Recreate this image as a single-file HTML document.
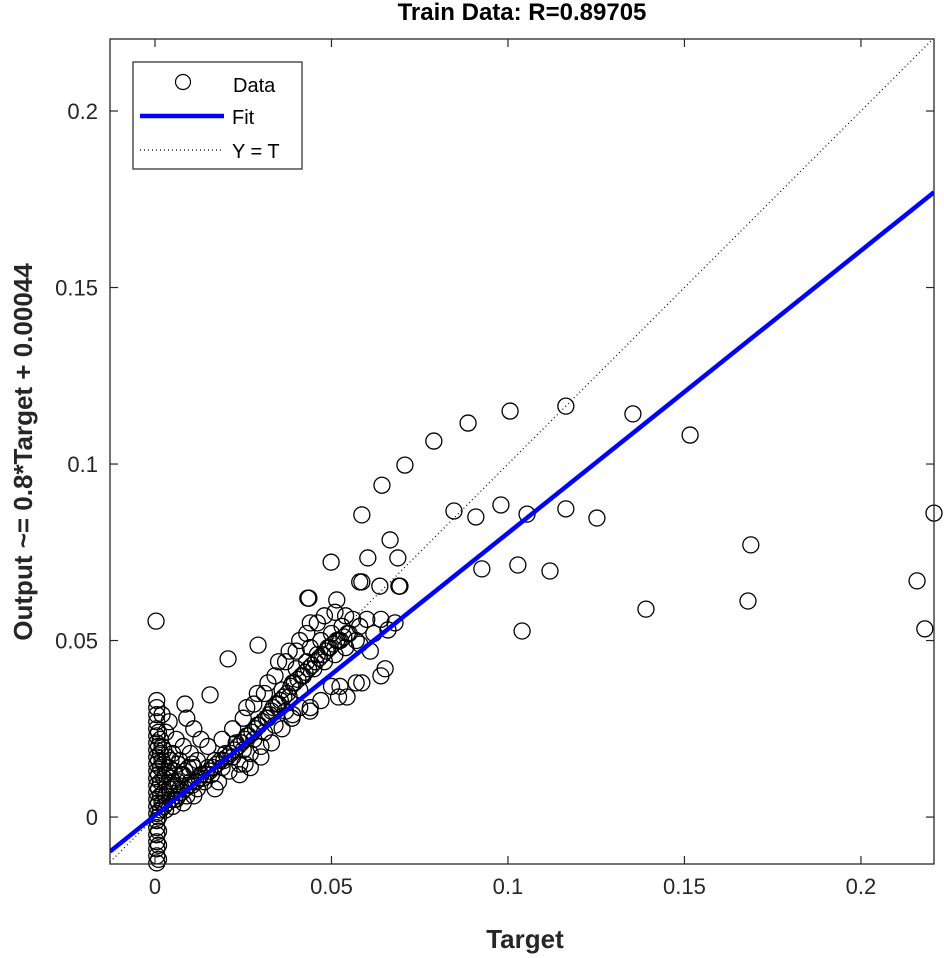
<!DOCTYPE html>
<html><head><meta charset="utf-8"><style>
body{margin:0;background:#fff}
svg{display:block;font-family:"Liberation Sans",Arial,sans-serif}
</style></head><body>
<svg id="c" width="944" height="958" viewBox="0 0 944 958"></svg>
<script>
const xTicks=[0,0.05,0.1,0.15,0.2];
const yTicks=[0,0.05,0.1,0.15,0.2];
const tickLabels=["0","0.05","0.1","0.15","0.2"];
const fitSlope=0.8;
const fitIntercept=0.00044;
const dataX=[0.0005,0.0005,0.0005,0.0005,0.0005,0.0005,0.0005,0.0005,0.0005,0.0005,0.0005,0.0005,0.0005,0.0005,0.0005,0.0005,0.0005,0.0005,0.0005,0.0005,0.0005,0.0005,0.0005,0.0005,
0.002,0.003,0.004,0.005,0.003,0.002,0.002,0.003,0.004,0.005,0.006,0.006,0.007,0.008,0.007,0.008,0.009,0.01,0.011,0.01,0.012,0.013,0.012,0.014,0.015,0.004,0.002,0.005,0.008,0.011,0.003,
0.016,0.017,0.018,0.019,0.02,0.021,0.022,0.023,0.024,0.025,0.026,0.027,0.028,0.029,0.03,0.031,0.032,0.033,0.034,0.035,0.036,0.037,0.038,0.039,0.04,0.041,0.042,0.043,0.044,0.045,0.046,0.047,0.048,0.049,0.05,0.051,0.052,0.053,0.054,0.055,0.056,0.057,0.058,0.06,0.062,0.064,0.066,0.068,
0.022,0.025,0.028,0.031,0.034,0.037,0.04,0.043,0.046,0.024,0.027,0.03,0.033,0.036,0.039,0.041,0.026,0.029,0.032,0.035,0.038,0.041,0.044,0.048,0.051,0.054,0.058,0.061,0.064,0.05,0.052,0.057,0.044,0.047,0.019,0.015,0.013,0.011,0.009,
0.0003,0.1006,0.1164,0.1354,0.0887,0.079,0.0708,0.1516,0.0847,0.098,0.0909,0.1054,0.1164,0.1252,0.0926,0.1028,0.1119,0.104,0.1391,0.1688,0.168,0.2159,0.2207,0.2181,0.0586,0.0643,0.0666,0.0688,0.058,0.0637,0.0603,0.0499,0.0694,0.0436,0.0207,0.0085,0.0156,0.0292,0.0433,0.0515,0.0586,0.0691,0.0652,0.0586,0.0544,0.0524,0.0439,0.0388,0.0255,0.017,
0.001,0.001,0.001,0.001,0.001,0.001,0.001,0.001,0.001,0.001,0.0015,0.0015,0.0015,0.0015,0.0015,0.0015,0.0025,0.0025,0.0025,0.0025,0.0025,0.0035,0.0035,0.0035,0.0035,0.0045,0.0045,0.0045,0.0055,0.0055,0.0055,0.0065,0.0065,0.0065,0.0075,0.0075,0.0085,0.0085,0.0095,0.0095,0.0105,0.0105,0.0115,0.0125,0.0135,0.0145,0.0155,0.0165,0.0175,0.0185,0.0195,0.0205,0.0215,0.0225,0.0235,0.0245,0.0255,0.0265,0.0275,0.0285,0.0295,0.0305,0.0315,0.0325,0.0335,0.0345,0.0355,0.0365,0.0375,0.0385,0.0395,0.0405,0.0415,0.0425,0.0435,0.0445,0.0455,0.0465,0.0475,0.0485,0.0495,0.0505,0.0515,0.0525,0.0535,0.0545];
const dataY=[-0.013,-0.011,-0.009,-0.007,-0.005,-0.003,-0.001,0.001,0.003,0.005,0.007,0.009,0.011,0.013,0.015,0.017,0.019,0.021,0.023,0.025,0.027,0.029,0.031,0.033,
0.004,0.006,0.008,0.01,0.012,0.016,0.02,0.024,0.014,0.018,0.022,0.005,0.008,0.012,0.016,0.02,0.006,0.01,0.014,0.018,0.008,0.012,0.016,0.01,0.014,0.027,0.029,0.003,0.004,0.006,0.002,
0.012,0.016,0.01,0.014,0.018,0.013,0.017,0.021,0.015,0.019,0.023,0.018,0.022,0.026,0.02,0.024,0.028,0.03,0.026,0.032,0.036,0.03,0.034,0.038,0.042,0.036,0.04,0.044,0.048,0.042,0.046,0.05,0.044,0.048,0.052,0.046,0.05,0.054,0.048,0.052,0.056,0.05,0.054,0.056,0.052,0.056,0.053,0.055,
0.025,0.028,0.032,0.035,0.04,0.044,0.047,0.052,0.055,0.012,0.014,0.017,0.021,0.025,0.029,0.031,0.031,0.035,0.038,0.044,0.047,0.05,0.055,0.057,0.058,0.057,0.049,0.047,0.04,0.037,0.034,0.038,0.031,0.033,0.022,0.02,0.022,0.025,0.028,
0.0555,0.115,0.1164,0.1142,0.1116,0.1065,0.0997,0.1082,0.0867,0.0884,0.085,0.0858,0.0873,0.0847,0.0703,0.0714,0.0697,0.0527,0.0589,0.0771,0.0612,0.0669,0.0861,0.0533,0.0856,0.094,0.0785,0.0734,0.0666,0.0654,0.0734,0.0722,0.0654,0.062,0.0448,0.032,0.0346,0.0487,0.062,0.0615,0.0666,0.0654,0.042,0.038,0.034,0.037,0.030,0.028,0.015,0.008,
-0.012,-0.008,-0.004,0.0,0.004,0.008,0.012,0.016,0.02,0.024,0.002,0.006,0.01,0.014,0.018,0.022,0.003,0.007,0.011,0.015,0.019,0.004,0.009,0.013,0.017,0.005,0.011,0.016,0.005,0.009,0.013,0.006,0.01,0.015,0.007,0.012,0.008,0.013,0.009,0.014,0.009,0.015,0.01,0.011,0.011,0.012,0.013,0.014,0.015,0.016,0.016,0.017,0.018,0.019,0.02,0.021,0.022,0.023,0.024,0.025,0.026,0.027,0.028,0.029,0.031,0.032,0.033,0.034,0.035,0.037,0.038,0.039,0.04,0.041,0.042,0.043,0.044,0.045,0.046,0.047,0.048,0.049,0.05,0.05,0.051,0.052];

const NS="http://www.w3.org/2000/svg";
const svg=document.getElementById('c');
const L=110,R=934,T=39,B=864;
const xMin=-0.01275,xMax=0.2207,yMin=-0.0133,yMax=0.2204;
const sx=v=>L+(v-xMin)/(xMax-xMin)*(R-L);
const sy=v=>B-(v-yMin)/(yMax-yMin)*(B-T);
function mk(tag,attrs,parent){const e=document.createElementNS(NS,tag);for(const k in attrs)e.setAttribute(k,attrs[k]);(parent||svg).appendChild(e);return e;}

const defs=mk('defs',{});
const cp=mk('clipPath',{id:'clip'},defs);mk('rect',{x:L,y:T,width:R-L,height:B-T},cp);
const plot=mk('g',{});



for(let i=0;i<dataX.length;i++){
 const c=mk('circle',{cx:sx(dataX[i]),cy:sy(dataY[i]),r:8,fill:'none',stroke:'#000','stroke-width':1.3},plot);
 
 
}
const lines=mk('g',{'clip-path':'url(#clip)'});
const idl=mk('line',{x1:sx(xMin),y1:sy(xMin),x2:sx(xMax),y2:sy(xMax),stroke:'#000','stroke-width':1.2,'stroke-dasharray':'1 3'},lines);


const fit=mk('line',{x1:sx(xMin),y1:sy(fitSlope*xMin+fitIntercept),x2:sx(xMax),y2:sy(fitSlope*xMax+fitIntercept),stroke:'#0000ff','stroke-width':4.5},lines);



const box=mk('rect',{x:L,y:T,width:R-L,height:B-T,fill:'none',stroke:'#262626','stroke-width':1.3});



xTicks.forEach((t,i)=>{
 const x=sx(t);
 mk('line',{x1:x,y1:B,x2:x,y2:B-8,stroke:'#262626','stroke-width':1.2});
 mk('line',{x1:x,y1:T,x2:x,y2:T+8,stroke:'#262626','stroke-width':1.2});
 const tx=mk('text',{x:x,y:B+30,'text-anchor':'middle','font-size':22,fill:'#262626'});
 tx.textContent=tickLabels[i];
 
 
});
yTicks.forEach((t,i)=>{
 const y=sy(t);
 mk('line',{x1:L,y1:y,x2:L+8,y2:y,stroke:'#262626','stroke-width':1.2});
 mk('line',{x1:R,y1:y,x2:R-8,y2:y,stroke:'#262626','stroke-width':1.2});
 const tx=mk('text',{x:L-12,y:y+8,'text-anchor':'end','font-size':22,fill:'#262626'});
 tx.textContent=tickLabels[i];
 
 
});
</script>
<svg width="944" height="958" style="position:absolute;left:0;top:0">
<text x="522" y="20" text-anchor="middle" font-size="24" font-weight="bold" fill="#000" font-family="Liberation Sans, sans-serif">Train Data: R=0.89705</text>
<text x="525" y="948" text-anchor="middle" font-size="26" font-weight="bold" fill="#262626" font-family="Liberation Sans, sans-serif">Target</text>
<text transform="translate(32,452) rotate(-90)" text-anchor="middle" font-size="26" font-weight="bold" fill="#262626" font-family="Liberation Sans, sans-serif">Output ~= 0.8*Target + 0.00044</text>
<g font-family="Liberation Sans, sans-serif" font-size="20" fill="#000">
<rect x="133" y="62" width="169" height="107" fill="#fff" stroke="#262626" stroke-width="1.2"/>
<circle cx="183" cy="82" r="7.5" fill="none" stroke="#000" stroke-width="1.2"/>
<text x="233" y="92">Data</text>
<line x1="140" y1="116" x2="224" y2="116" stroke="#0000ff" stroke-width="4.5"/>
<text x="232" y="124">Fit</text>
<line x1="140" y1="150" x2="224" y2="150" stroke="#000" stroke-width="1.2" stroke-dasharray="1 3"/>
<text x="232" y="158">Y = T</text>
</g>
</svg>
</body></html>
